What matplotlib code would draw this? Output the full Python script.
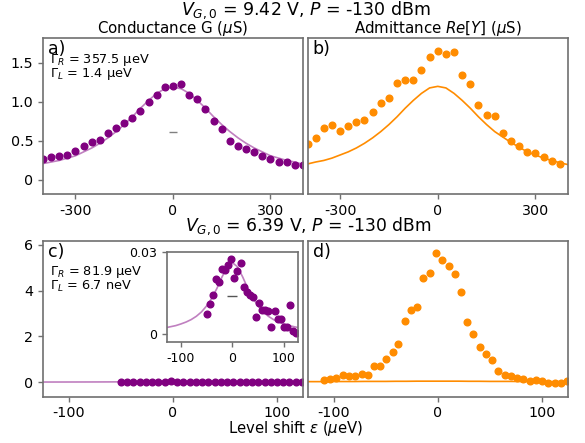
import numpy as np
import matplotlib
matplotlib.use('Agg')
import matplotlib.pyplot as plt

plt.rcParams['font.family'] = ['DejaVu Sans']
plt.rcParams['font.size'] = 10.3
plt.rcParams['axes.unicode_minus'] = False
plt.rcParams['axes.edgecolor'] = '#707070'
plt.rcParams['axes.linewidth'] = 1.2

# ---- data: top row (V_G,0 = 9.42 V) ----
eps_top = [-400, -375, -350, -325, -300, -275, -250, -225, -200, -175, -150, -125,
           -100, -75, -50, -25, 0, 25, 50, 75, 100, 125, 150, 175, 200, 225, 250,
           275, 300, 325, 350, 375, 400]
G_top = [0.27, 0.29, 0.31, 0.325, 0.37, 0.43, 0.49, 0.51, 0.60, 0.67, 0.73, 0.79,
         0.89, 1.00, 1.09, 1.19, 1.205, 1.23, 1.09, 1.04, 0.91, 0.76, 0.65, 0.50,
         0.43, 0.40, 0.36, 0.31, 0.27, 0.235, 0.23, 0.19, 0.19]
G_top_fit = [0.21, 0.23, 0.25, 0.28, 0.31, 0.36, 0.41, 0.47, 0.54, 0.62, 0.71, 0.81,
             0.92, 1.02, 1.11, 1.17, 1.19, 1.17, 1.11, 1.02, 0.92, 0.81, 0.71, 0.62,
             0.54, 0.47, 0.41, 0.36, 0.31, 0.28, 0.25, 0.23, 0.20]
eps_top_Y = eps_top[:-1]
Y_top = [0.466, 0.534, 0.662, 0.705, 0.628, 0.688, 0.748, 0.769, 0.868, 0.983, 1.047,
         1.248, 1.282, 1.286, 1.415, 1.573, 1.654, 1.62, 1.645, 1.346, 1.235, 0.962,
         0.838, 0.821, 0.603, 0.504, 0.436, 0.363, 0.346, 0.299, 0.248, 0.209]
Y_top_fit = [0.205, 0.23, 0.25, 0.28, 0.32, 0.36, 0.41, 0.47, 0.54, 0.62, 0.71, 0.81,
             0.92, 1.02, 1.11, 1.18, 1.20, 1.18, 1.11, 1.02, 0.92, 0.81, 0.71, 0.62,
             0.55, 0.48, 0.42, 0.36, 0.32, 0.28, 0.25, 0.22, 0.197]
G_marker_top = 0.62

# ---- data: bottom row (V_G,0 = 6.39 V) ----
eps_bot_G = [-50, -44, -38, -32, -26, -20, -14, -8, -2, 4, 10, 16, 22, 28, 34, 40,
             46, 52, 58, 64, 70, 76, 82, 88, 94, 100, 106, 112, 118, 124]
G_bot = [0.0074, 0.011, 0.014, 0.020, 0.019, 0.0237, 0.0232, 0.0251, 0.0274, 0.0204,
         0.0230, 0.0257, 0.017, 0.0151, 0.0143, 0.0134, 0.0061, 0.0111, 0.0087, 0.0088,
         0.0085, 0.0024, 0.0084, 0.0054, 0.0055, 0.0024, 0.0026, 0.0104, 0.0011, 0.0003]
eps_fit_bot = [-130, -120, -110, -100, -90, -80, -70, -60, -50, -40, -30, -20, -10, 0,
               10, 20, 30, 40, 50, 60, 70, 80, 90, 100, 110, 120, 130]
G_bot_fit = [0.0022, 0.0026, 0.0030, 0.0036, 0.0043, 0.0052, 0.0064, 0.0080, 0.0102,
             0.0130, 0.0166, 0.0208, 0.0245, 0.0260, 0.0245, 0.0208, 0.0166, 0.0130,
             0.0102, 0.0080, 0.0064, 0.0052, 0.0043, 0.0036, 0.0030, 0.0026, 0.0022]
G_marker_bot = 0.0139
eps_bot_Y = [-109.6, -103.5, -97.5, -91.4, -85.3, -79.2, -73.1, -67.1, -61.4, -55.3,
             -49.5, -43.4, -37.7, -31.7, -25.6, -19.5, -13.7, -7.6, -1.6, 4.4, 10.5,
             16.3, 22.4, 28.5, 34.2, 40.2, 46.3, 52.4, 58.2, 64.3, 70.3, 76, 82.1, 88.2,
             94.3, 100.4, 106.2, 112.1, 118.2, 124]
Y_bot = [0.10, 0.13, 0.16, 0.32, 0.28, 0.28, 0.35, 0.32, 0.69, 0.69, 0.99, 1.33, 1.65,
         2.66, 3.17, 3.27, 4.55, 4.75, 5.64, 5.35, 5.09, 4.71, 3.96, 2.62, 2.09, 1.54,
         1.23, 0.95, 0.47, 0.31, 0.28, 0.20, 0.13, 0.03, 0.07, 0.03, -0.03, -0.06,
         -0.03, 0.06]
Y_bot_fit = [0.02, 0.02, 0.02, 0.025, 0.025, 0.025, 0.03, 0.03, 0.03, 0.035, 0.035,
             0.04, 0.04, 0.04, 0.04, 0.04, 0.035, 0.035, 0.03, 0.03, 0.03, 0.025, 0.025,
             0.025, 0.02, 0.02, 0.02]

purple = '#800080'
purple_line = '#c080c0'
orange = '#ff8c00'
ms = 4.8

fig = plt.figure(figsize=(5.85, 4.43), dpi=100)
W, H = 585.0, 443.0


def add_ax(l, r, t, b, **kw):
    return fig.add_axes([l / W, 1 - b / H, (r - l) / W, (b - t) / H], **kw)


ax_a = add_ax(43, 303, 38, 194)
ax_b = add_ax(307.5, 568, 38, 194, sharey=ax_a)
ax_c = add_ax(43, 303, 240.5, 396.5)
ax_d = add_ax(307.5, 568, 240.5, 396.5, sharey=ax_c)

for ax in (ax_a, ax_b, ax_c, ax_d):
    ax.tick_params(color='#707070', labelcolor='black', length=3.5, width=1)

# a) conductance, top
ax_a.plot(eps_top, G_top_fit, color=purple_line, lw=1.2)
ax_a.plot(eps_top, G_top, 'o', color=purple, ms=ms)
ax_a.plot([0], [G_marker_top], marker='_', color='gray', ms=6)
ax_a.set_xlim(-400, 400)
ax_a.set_ylim(-0.18, 1.82)
ax_a.set_xticks([-300, 0, 300])
ax_a.set_yticks([0, 0.5, 1.0, 1.5])
ax_a.set_yticklabels(['0', '0.5', '1.0', '1.5'])
ax_a.set_title(r'Conductance G ($\mu$S)', fontsize=10.8, pad=3)
ax_a.text(0.02, 0.985, 'a)', transform=ax_a.transAxes, fontsize=12.5, va='top')
ax_a.text(0.027, 0.862, r'$\Gamma_R$ = 357.5 μeV', transform=ax_a.transAxes,
          fontsize=9.3, va='center')
ax_a.text(0.027, 0.77, r'$\Gamma_L$ = 1.4 μeV', transform=ax_a.transAxes,
          fontsize=9.3, va='center')

# b) admittance, top
ax_b.plot(eps_top, Y_top_fit, color=orange, lw=1.2)
ax_b.plot(eps_top_Y, Y_top, 'o', color=orange, ms=ms)
ax_b.set_xlim(-400, 400)
ax_b.set_xticks([-300, 0, 300])
ax_b.tick_params(axis='y', left=False, labelleft=False)
ax_b.set_title(r'Admittance $Re[Y]$ ($\mu$S)', fontsize=10.8, pad=3)
ax_b.text(0.02, 0.985, 'b)', transform=ax_b.transAxes, fontsize=12.5, va='top')

# c) conductance, bottom
ax_c.plot(eps_fit_bot, G_bot_fit, color=purple_line, lw=1.2)
ax_c.plot(eps_bot_G, G_bot, 'o', color=purple, ms=ms)
ax_c.set_xlim(-125, 125)
ax_c.set_ylim(-0.63, 6.19)
ax_c.set_xticks([-100, 0, 100])
ax_c.set_yticks([0, 2, 4, 6])
ax_c.text(0.02, 0.985, 'c)', transform=ax_c.transAxes, fontsize=12.5, va='top')
ax_c.text(0.027, 0.797, r'$\Gamma_R$ = 81.9 μeV', transform=ax_c.transAxes,
          fontsize=9.3, va='center')
ax_c.text(0.027, 0.705, r'$\Gamma_L$ = 6.7 neV', transform=ax_c.transAxes,
          fontsize=9.3, va='center')

# inset in c
ax_in = add_ax(167, 297.7, 251.7, 342.3)
ax_in.tick_params(color='#707070', labelcolor='black', length=3.5, width=1,
                  labelsize=9)
ax_in.plot(eps_fit_bot, G_bot_fit, color=purple_line, lw=1.2)
ax_in.plot(eps_bot_G, G_bot, 'o', color=purple, ms=ms)
ax_in.plot([0], [G_marker_bot], marker='_', color='#555555', ms=7)
ax_in.set_xlim(-127, 127)
ax_in.set_ylim(-0.0031, 0.03)
ax_in.set_xticks([-100, 0, 100])
ax_in.set_yticks([0, 0.03])
ax_in.set_yticklabels(['0', '0.03'])

# d) admittance, bottom
ax_d.plot(eps_fit_bot, Y_bot_fit, color=orange, lw=1.2)
ax_d.plot(eps_bot_Y, Y_bot, 'o', color=orange, ms=ms)
ax_d.set_xlim(-125, 125)
ax_d.set_xticks([-100, 0, 100])
ax_d.tick_params(axis='y', left=False, labelleft=False)
ax_d.text(0.02, 0.985, 'd)', transform=ax_d.transAxes, fontsize=12.5, va='top')

fig.text(306 / W, 1 - 10 / H, r'$V_{G,0}$ = 9.42 V, $P$ = -130 dBm',
         ha='center', va='center', fontsize=12.5)
fig.text(308 / W, 1 - 226 / H, r'$V_{G,0}$ = 6.39 V, $P$ = -130 dBm',
         ha='center', va='center', fontsize=12.3)
fig.text(296 / W, 1 - 429 / H, r'Level shift $\epsilon$ ($\mu$eV)',
         ha='center', va='center', fontsize=10.7)

fig.savefig('out.png', dpi=100)
